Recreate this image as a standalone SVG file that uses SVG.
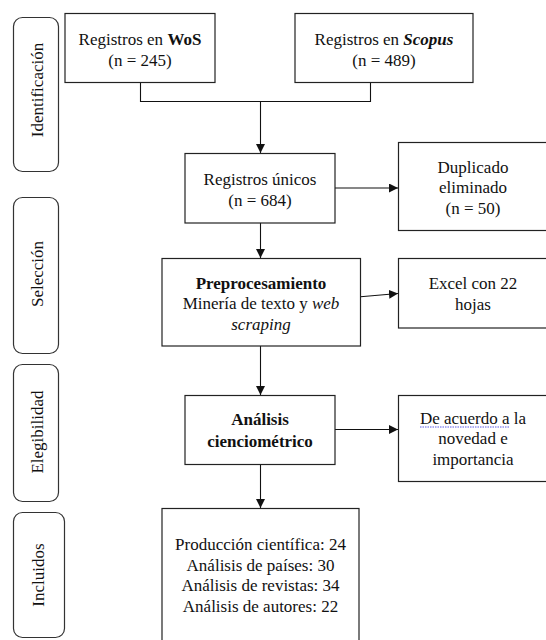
<svg xmlns="http://www.w3.org/2000/svg" width="546" height="640" viewBox="0 0 546 640" font-family="'Liberation Serif', 'DejaVu Serif', serif">
  <style>
    text { font-family: "Liberation Serif", "DejaVu Serif", serif; font-size: 17px; fill: #111; }
    .c { text-anchor: middle; }
    .box { fill: #fff; stroke: #222; stroke-width: 1.2; }
    .phase { fill: #fff; stroke: #333; stroke-width: 1.2; }
    .ln { fill: none; stroke: #111; stroke-width: 1.1; }
    .b { font-weight: bold; }
    .i { font-style: italic; }
  </style>
  <defs>
    <marker id="arr" markerUnits="userSpaceOnUse" markerWidth="9" markerHeight="9" refX="9" refY="4.5" orient="auto">
      <path d="M0,0 L9,4.5 L0,9 z" fill="#111"/>
    </marker>
  </defs>
  <rect width="546" height="640" fill="#fff"/>

  <g id="phase-identificacion">
    <rect class="phase" x="13.5" y="17.5" width="45" height="154" rx="9"/>
    <text class="c" transform="translate(43,90) rotate(-90)">Identificación</text>
  </g>
  <g id="phase-seleccion">
    <rect class="phase" x="13.5" y="197.5" width="45" height="156" rx="9"/>
    <text class="c" transform="translate(43,274) rotate(-90)">Selección</text>
  </g>
  <g id="phase-elegibilidad">
    <rect class="phase" x="13.5" y="364.5" width="45" height="137" rx="9"/>
    <text class="c" transform="translate(43,432) rotate(-90)">Elegibilidad</text>
  </g>
  <g id="phase-incluidos">
    <rect class="phase" x="13.5" y="512.5" width="51" height="125" rx="9"/>
    <text class="c" transform="translate(44,575) rotate(-90)">Incluidos</text>
  </g>

  <g id="connectors">
    <polyline class="ln" points="140.5,82 140.5,101.5 370.5,101.5 370.5,82"/>
    <line class="ln" x1="260.5" y1="101.5" x2="260.5" y2="153" marker-end="url(#arr)"/>
    <line class="ln" x1="335" y1="188" x2="398" y2="188" marker-end="url(#arr)"/>
    <line class="ln" x1="260.5" y1="223" x2="260.5" y2="258" marker-end="url(#arr)"/>
    <line class="ln" x1="360.5" y1="296.7" x2="398" y2="293.5" marker-end="url(#arr)"/>
    <line class="ln" x1="260.5" y1="346" x2="260.5" y2="395" marker-end="url(#arr)"/>
    <line class="ln" x1="335" y1="429.5" x2="398" y2="429.5" marker-end="url(#arr)"/>
    <line class="ln" x1="260.5" y1="464.5" x2="260.5" y2="508" marker-end="url(#arr)"/>
  </g>

  <g id="node-wos">
    <rect class="box" x="65" y="13.5" width="150" height="69"/>
    <text class="c" x="140" y="44.5">Registros en <tspan class="b">WoS</tspan></text>
    <text class="c" x="140" y="65.5">(n = 245)</text>
  </g>
  <g id="node-scopus">
    <rect class="box" x="295" y="13.5" width="178" height="69"/>
    <text class="c" x="384" y="44.5">Registros en <tspan class="b i">Scopus</tspan></text>
    <text class="c" x="384" y="65.5">(n = 489)</text>
  </g>
  <g id="node-unicos">
    <rect class="box" x="185" y="153.5" width="150" height="69.5"/>
    <text class="c" x="260" y="185">Registros únicos</text>
    <text class="c" x="260" y="206">(n = 684)</text>
  </g>
  <g id="node-duplicado">
    <rect class="box" x="398.5" y="142.5" width="152" height="88"/>
    <text class="c" x="473" y="172.5">Duplicado</text>
    <text class="c" x="473" y="193">eliminado</text>
    <text class="c" x="473" y="214">(n = 50)</text>
  </g>
  <g id="node-preprocesamiento">
    <rect class="box" x="162" y="258.5" width="198.5" height="87.5"/>
    <text class="c b" x="261" y="288.5">Preprocesamiento</text>
    <text class="c" x="261" y="309">Minería de texto y <tspan class="i">web</tspan></text>
    <text class="c i" x="261" y="329.5">scraping</text>
  </g>
  <g id="node-excel">
    <rect class="box" x="398.5" y="258.5" width="152" height="69.5"/>
    <text class="c" x="473" y="289">Excel con 22</text>
    <text class="c" x="473" y="310">hojas</text>
  </g>
  <g id="node-analisis">
    <rect class="box" x="185" y="395.5" width="150" height="69"/>
    <text class="c b" x="260" y="425">Análisis</text>
    <text class="c b" x="260" y="446.5">cienciométrico</text>
  </g>
  <g id="node-criterio">
    <rect class="box" x="398.5" y="395.5" width="152" height="86"/>
    <text class="c" x="473" y="423.5">De acuerdo a la</text>
    <path d="M420,427 L509,427" stroke="#5a5ae6" stroke-width="1" stroke-dasharray="1.5,1" fill="none"/>
    <text class="c" x="473" y="444">novedad e</text>
    <text class="c" x="473" y="464.5">importancia</text>
  </g>
  <g id="node-incluidos">
    <rect class="box" x="162" y="508.5" width="197" height="140"/>
    <text class="c" x="260.5" y="550">Producción científica: 24</text>
    <text class="c" x="260.5" y="570.5">Análisis de países: 30</text>
    <text class="c" x="260.5" y="591">Análisis de revistas: 34</text>
    <text class="c" x="260.5" y="611.5">Análisis de autores: 22</text>
  </g>
</svg>
